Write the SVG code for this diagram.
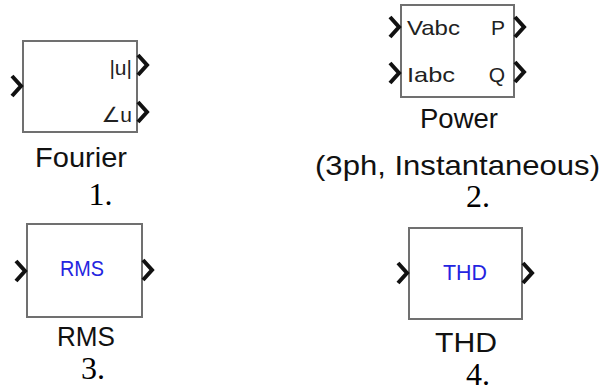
<svg xmlns="http://www.w3.org/2000/svg" xmlns:xlink="http://www.w3.org/1999/xlink" width="605" height="392" viewBox="0 0 605 392">
<style>
.box{fill:#ffffff;stroke:#707070;stroke-width:2}
.port{fill:none;stroke:#111;stroke-width:4;stroke-linejoin:miter}
.pl{font-family:"Liberation Sans","DejaVu Sans",sans-serif;font-size:21px;fill:#222}
.inner{font-family:"Liberation Sans",sans-serif;font-size:22px;fill:#2424e0;text-anchor:middle}
.lbl{font-family:"Liberation Sans",sans-serif;font-size:28px;fill:#111;text-anchor:middle}
.num{font-family:"Liberation Serif",serif;font-size:32px;fill:#000}
</style>
<defs>
<path id="chev" d="M0,-10 L9,0 L0,10"/>
</defs>
<rect width="605" height="392" fill="#ffffff"/>
<g id="connectors"/>
<g id="fourier">
<rect class="box" x="23" y="41" width="114" height="91"/>
<use href="#chev" class="port" x="12" y="86"/>
<use href="#chev" class="port" x="138" y="65"/>
<use href="#chev" class="port" x="138" y="112"/>
<text class="pl" x="132" y="75" text-anchor="end">|u|</text>
<text class="pl" x="132" y="122" text-anchor="end">∠u</text>
<text class="lbl" x="81" y="167" textLength="92" lengthAdjust="spacingAndGlyphs">Fourier</text>
<text class="num" x="88.5" y="205">1.</text>
</g>
<g id="power">
<rect class="box" x="401" y="5" width="113" height="92"/>
<use href="#chev" class="port" x="390" y="27"/>
<use href="#chev" class="port" x="390" y="73"/>
<use href="#chev" class="port" x="515" y="27"/>
<use href="#chev" class="port" x="515" y="72"/>
<text class="pl" x="407" y="35" textLength="53" lengthAdjust="spacingAndGlyphs">Vabc</text>
<text class="pl" x="407" y="82" textLength="48" lengthAdjust="spacingAndGlyphs">Iabc</text>
<text class="pl" x="505" y="35" text-anchor="end">P</text>
<text class="pl" x="505" y="82" text-anchor="end">Q</text>
<text class="lbl" x="459" y="128" textLength="78" lengthAdjust="spacingAndGlyphs">Power</text>
<text class="lbl" x="457.5" y="175" textLength="285" lengthAdjust="spacingAndGlyphs">(3ph, Instantaneous)</text>
<text class="num" x="466" y="207">2.</text>
</g>
<g id="rms">
<rect class="box" x="27" y="224" width="115" height="93"/>
<use href="#chev" class="port" x="16" y="271"/>
<use href="#chev" class="port" x="143" y="270"/>
<text class="inner" x="82" y="276" textLength="44" lengthAdjust="spacingAndGlyphs">RMS</text>
<text class="lbl" x="86" y="346" textLength="58" lengthAdjust="spacingAndGlyphs">RMS</text>
<text class="num" x="81" y="379" font-size="30">3.</text>
</g>
<g id="thd">
<rect class="box" x="409" y="228" width="113" height="91"/>
<use href="#chev" class="port" x="398" y="273"/>
<use href="#chev" class="port" x="523" y="273"/>
<text class="inner" x="465" y="280" textLength="44" lengthAdjust="spacingAndGlyphs">THD</text>
<text class="lbl" x="466" y="352" textLength="62" lengthAdjust="spacingAndGlyphs">THD</text>
<text class="num" x="466" y="385">4.</text>
</g>
</svg>
